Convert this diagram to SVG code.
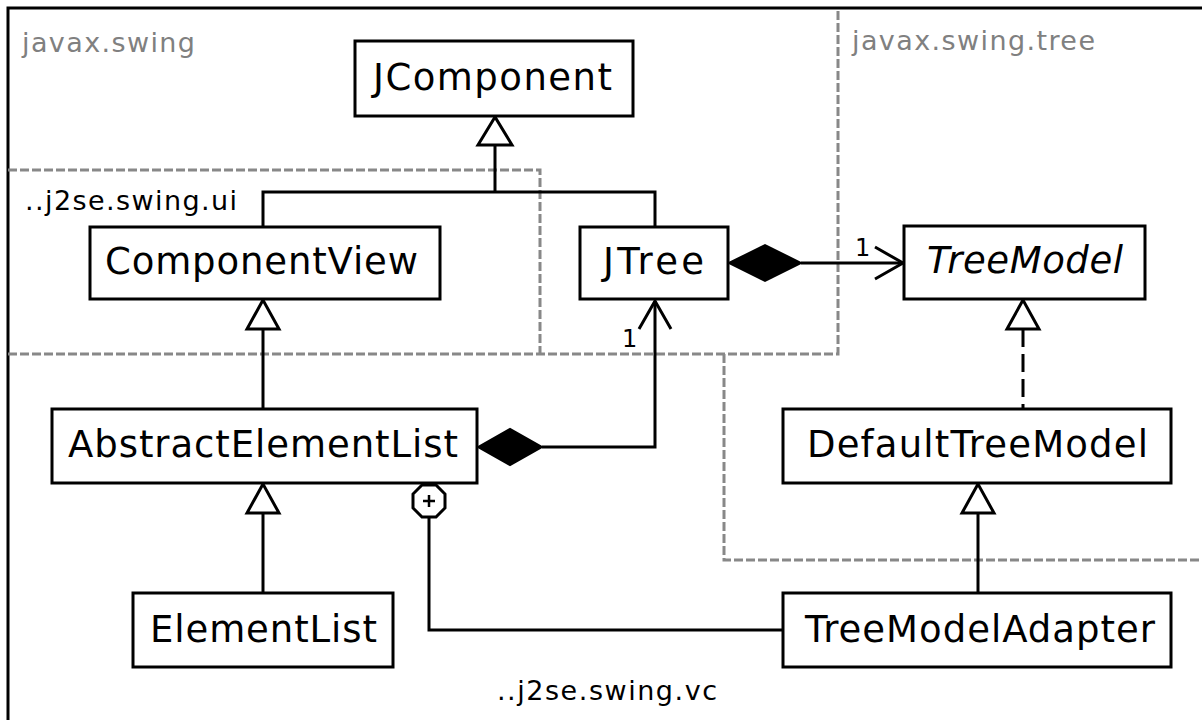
<svg xmlns="http://www.w3.org/2000/svg" width="1202" height="720" viewBox="0 0 1202 720">
<style>
.box{fill:#fff;stroke:#000;stroke-width:3}
.cls{font-family:"DejaVu Sans","Liberation Sans",sans-serif;font-size:37px;fill:#000}
.pkg{font-family:"DejaVu Sans","Liberation Sans",sans-serif;font-size:27px}
.frame{fill:none;stroke:#000;stroke-width:3}
.pkgline{fill:none;stroke:#888;stroke-width:3;stroke-dasharray:9,3}
.line{fill:none;stroke:#000;stroke-width:3}
.tri{fill:#fff;stroke:#000;stroke-width:3;stroke-linejoin:miter}
.dia{fill:#000;stroke:#000;stroke-width:2}
.mult{font-family:"DejaVu Sans","Liberation Sans",sans-serif;font-size:24px;fill:#000}
</style>
<rect width="1202" height="720" fill="#fff"/>
<g id="packages">
<path class="frame" d="M8,722 V8 H1204"/>
<path class="pkgline" d="M8,170 H540 V354"/>
<path class="pkgline" d="M8,354 H838 V8"/>
<path class="pkgline" d="M724,354 V560 H1204"/>
<text class="pkg" x="22" y="52" fill="#808080" textLength="173" lengthAdjust="spacing">javax.swing</text>
<text class="pkg" x="852" y="50" fill="#808080" textLength="243" lengthAdjust="spacing">javax.swing.tree</text>
<text class="pkg" x="25" y="210" fill="#000" textLength="212" lengthAdjust="spacing">..j2se.swing.ui</text>
<text class="pkg" x="497" y="700" fill="#000" textLength="220" lengthAdjust="spacing">..j2se.swing.vc</text>
</g>
<g id="connectors">
<path class="line" d="M495,145 V192 M263,227 V192 H655 V227"/>
<polygon class="tri" points="495,117 478,145 512,145"/>
<path class="line" d="M263,329 V409"/>
<polygon class="tri" points="263,300 247,329 279,329"/>
<path class="line" d="M263,513 V593"/>
<polygon class="tri" points="263,484 247,513 279,513"/>
<path class="line" d="M1023,329 V409" stroke-dasharray="18,7"/>
<polygon class="tri" points="1023,300 1007,329 1039,329"/>
<path class="line" d="M978,513 V593"/>
<polygon class="tri" points="978,484 962,513 994,513"/>
<polygon class="dia" points="729,263 765,245 801,263 765,281"/>
<path class="line" d="M801,263 H903"/>
<polyline class="line" points="875,247 903,263 875,279"/>
<text class="mult" x="855" y="256">1</text>
<polygon class="dia" points="478,447 510,429 542,447 510,465"/>
<path class="line" d="M542,447 H655 V301"/>
<polyline class="line" points="639,329 655,301 671,329"/>
<text class="mult" x="622" y="347">1</text>
<path class="line" d="M429,517 V630 H783"/>
<polygon points="422,485 436,485 445,494 445,508 436,517 422,517 413,508 413,494" fill="#fff" stroke="#000" stroke-width="3"/>
<path d="M423,501 H435 M429,495 V507" stroke="#000" stroke-width="2.5"/>
</g>
<g id="JComponent">
<rect class="box" x="355" y="41" width="278" height="75"/>
<text class="cls" x="373" y="90" textLength="239" lengthAdjust="spacing">JComponent</text>
</g>
<g id="ComponentView">
<rect class="box" x="90" y="227" width="350" height="72"/>
<text class="cls" x="105" y="274" textLength="313" lengthAdjust="spacing">ComponentView</text>
</g>
<g id="JTree">
<rect class="box" x="580" y="227" width="148" height="72"/>
<text class="cls" x="603" y="274" textLength="101" lengthAdjust="spacing">JTree</text>
</g>
<g id="TreeModel">
<rect class="box" x="904" y="226" width="241" height="73"/>
<text class="cls" x="927" y="273" font-style="italic" textLength="196" lengthAdjust="spacing">TreeModel</text>
</g>
<g id="AbstractElementList">
<rect class="box" x="52" y="409" width="425" height="74"/>
<text class="cls" x="68" y="457" textLength="390" lengthAdjust="spacing">AbstractElementList</text>
</g>
<g id="DefaultTreeModel">
<rect class="box" x="783" y="409" width="388" height="74"/>
<text class="cls" x="807" y="457" textLength="341" lengthAdjust="spacing">DefaultTreeModel</text>
</g>
<g id="ElementList">
<rect class="box" x="133" y="593" width="260" height="74"/>
<text class="cls" x="150" y="642" textLength="227" lengthAdjust="spacing">ElementList</text>
</g>
<g id="TreeModelAdapter">
<rect class="box" x="783" y="593" width="388" height="74"/>
<text class="cls" x="805" y="642" textLength="350" lengthAdjust="spacing">TreeModelAdapter</text>
</g>
</svg>
